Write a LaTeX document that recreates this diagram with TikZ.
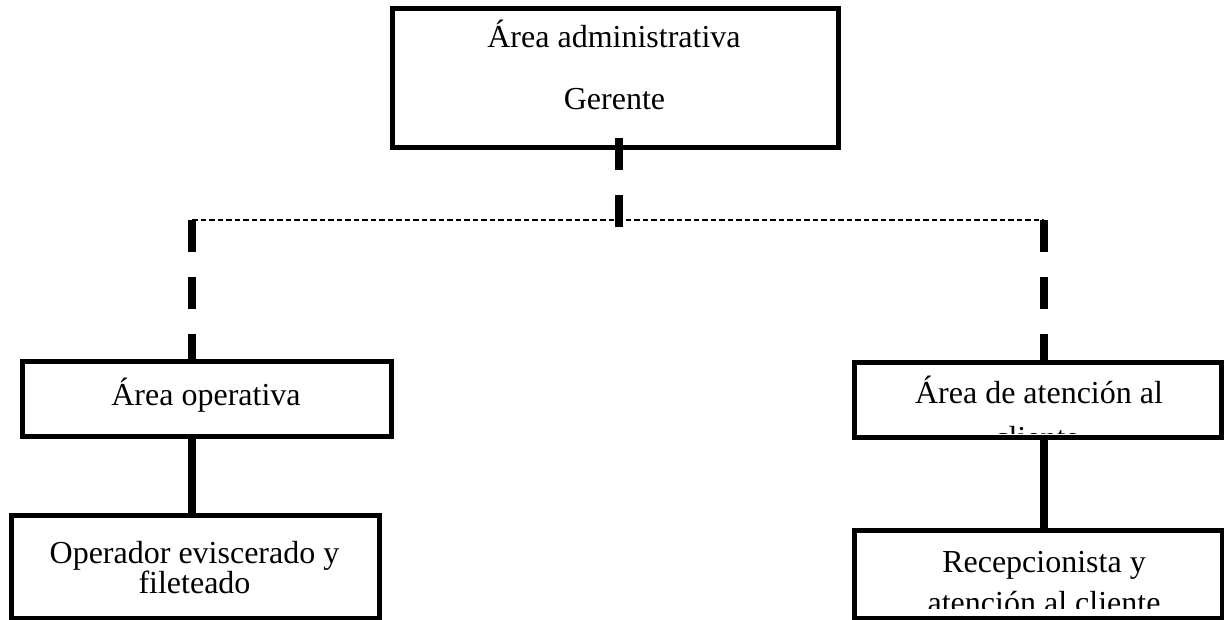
\documentclass[tikz,border=0pt]{standalone}
\usepackage{fontspec}
\setmainfont{Liberation Serif}
\begin{document}
\begin{tikzpicture}[x=1pt,y=-1pt,
  box/.style={draw=black, line width=5pt, rectangle, inner sep=0pt, outer sep=0pt},
  txt/.style={anchor=base, inner sep=0pt, font=\fontsize{32}{38}\selectfont},
  thickdash/.style={line width=8pt, dash pattern=on 32pt off 25pt},
  thindash/.style={line width=1.5pt, dash pattern=on 5.5pt off 3pt},
  solidlink/.style={line width=8pt}]
\useasboundingbox (0,0) rectangle (1224,620);

% boxes
\node[box, minimum width=446pt, minimum height=139pt] (adm) at (615,78.5) {};
\node[box, minimum width=369pt, minimum height=74pt] (opa) at (206.5,399) {};
\node[box, minimum width=367pt, minimum height=74pt] (aca) at (1037.5,400) {};
\node[box, minimum width=368pt, minimum height=103pt] (ope) at (195,566.5) {};
\node[box, minimum width=368pt, minimum height=88pt] (rec) at (1038,574) {};

% texts
\node[txt] (adm1) at (614,48) {Área administrativa};
\node[txt] (adm2) at (614.5,110) {Gerente};
\node[txt] (opa1) at (206,405) {Área operativa};
\begin{scope}
  \clip (857,366) rectangle (1218,433);
  \node[txt] (aca1) at (1039,403) {Área de atención al};
  \node[txt] (aca2) at (1037,448) {cliente};
\end{scope}
\node[txt] (ope1) at (194.5,563) {Operador eviscerado y};
\node[txt] (ope2) at (194.5,593) {fileteado};
\begin{scope}
  \clip (857,533) rectangle (1219,608);
  \node[txt] (rec1) at (1044,572) {Recepcionista y};
  \node[txt] (rec2) at (1044,613) {atención al cliente};
\end{scope}

% junction points of the dashed bus
\coordinate (jc) at (619,220);
\coordinate (jl) at (192,220);
\coordinate (jr) at (1044,220);

% connectors
\draw[thickdash] ([yshift=10pt]jc |- adm.south) -- ([yshift=-7pt]jc);
\draw[thindash] (jl) -- (jr);
\draw[thickdash] (jl) -- (jl |- opa.north);
\draw[thickdash] (jr) -- (jr |- aca.north);
\draw[solidlink] (jl |- opa.south) -- (jl |- ope.north);
\draw[solidlink] (jr |- aca.south) -- (jr |- rec.north);
\end{tikzpicture}
\end{document}
